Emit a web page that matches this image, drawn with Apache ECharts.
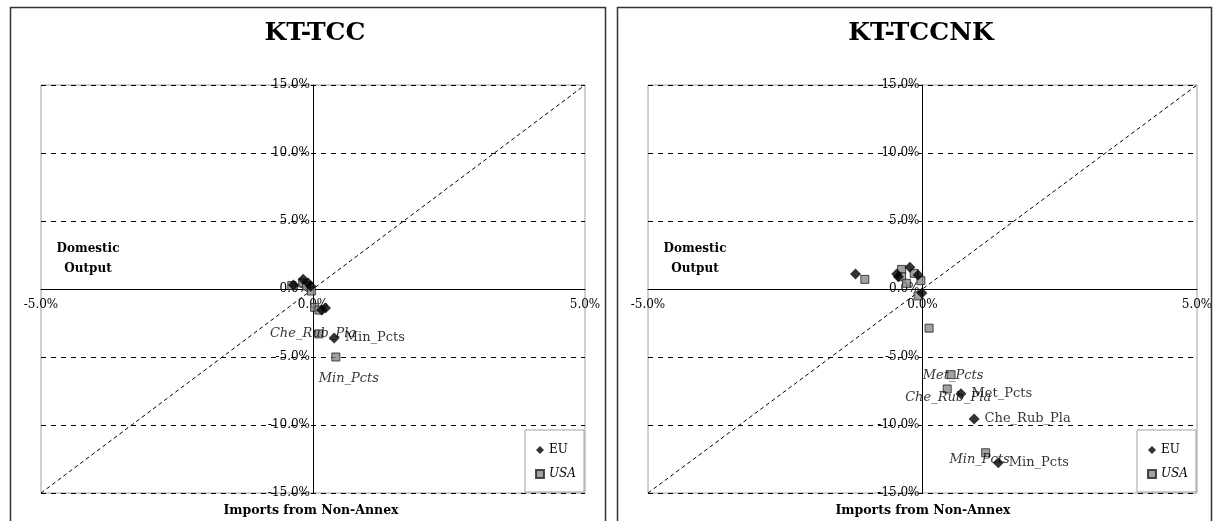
<!DOCTYPE html>
<html><head><meta charset="utf-8">
<script src="https://cdn.jsdelivr.net/npm/echarts@6/dist/echarts.min.js"></script>
<style>html,body{margin:0;padding:0;background:#fff}#c{width:1218px;height:521px}</style>
</head><body><div id="c"></div><script>
// ---- data (percent units) ----
const panelTitles = ['KT-TCC', 'KT-TCCNK'];
const seriesNames = ['EU', 'USA'];
const yAxisTitle = 'Domestic\nOutput';
const xAxisTitle = 'Imports from Non-Annex';

const euTCC = [[-0.36, 0.29], [-0.18, 0.72], [-0.09, 0.45], [-0.04, 0.2], [0.16, -1.55], [0.23, -1.4], [0.39, -3.6]];
const euTCCNames = ['', '', '', '', '', '', 'Min_Pcts'];
const usaTCC = [[-0.39, 0.25], [-0.19, 0.45], [-0.12, 0.22], [-0.03, -0.15], [0.03, -1.35], [0.11, -1.55], [0.11, -3.3], [0.42, -5.0]];
const usaTCCNames = ['', '', '', '', '', '', 'Che_Rub_Pla', 'Min_Pcts'];

const euTCCNK = [[-1.22, 1.1], [-0.47, 1.1], [-0.44, 0.9], [-0.23, 1.6], [-0.08, 1.03], [-0.01, -0.3], [0.70, -7.7], [0.94, -9.55], [1.38, -12.77]];
const euTCCNKNames = ['', '', '', '', '', '', 'Met_Pcts', 'Che_Rub_Pla', 'Min_Pcts'];
const usaTCCNK = [[-1.05, 0.71], [-0.38, 1.44], [-0.38, 0.9], [-0.29, 0.42], [-0.15, 1.15], [-0.03, 0.61], [-0.08, -0.51], [0.12, -2.88], [0.52, -6.3], [0.45, -7.35], [1.15, -12.04]];
const usaTCCNKNames = ['', '', '', '', '', '', '', '', 'Met_Pcts', 'Che_Rub_Pla', 'Min_Pcts'];

const xRange = [-5, 5];
const yRange = [-15, 15];
const xStep = 5;
const yStep = 5;
const diagonal = [[-5, -15], [5, 15]];

// ---- layout / style ----
const FONT = 'DejaVu Serif';
const grids = [
  { left: 41, top: 85, width: 544, height: 408 },
  { left: 648, top: 85, width: 549, height: 408 }
];
const panelRects = [
  { x: 10.5, y: 7.5, width: 595, height: 530 },
  { x: 617.5, y: 7.5, width: 594, height: 530 }
];
const titleCenters = [310, 916];
const yTitleCenters = [83, 690];
const xTitleCenters = [306, 918];
const legendPos = [{ right: 1218 - 584, bottom: 521 - 492 }, { right: 1218 - 1196, bottom: 521 - 492 }];
const usaLabelOffsets = [
  { Che_Rub_Pla: [-6, 0], Min_Pcts: [13, 22] },
  { Met_Pcts: [2, 1], Che_Rub_Pla: [1, 9], Min_Pcts: [-6, 7] }
];

const pct = v => v.toFixed(1) + '%';

function euData(pts, names) {
  return pts.map((p, i) => {
    const d = { value: p };
    if (names[i]) {
      d.name = names[i];
      d.label = { show: true, position: 'right', distance: 5, formatter: names[i],
        fontFamily: FONT, fontSize: 13, color: '#000' };
    }
    return d;
  });
}
function usaData(pts, names, offs) {
  return pts.map((p, i) => {
    const d = { value: p };
    if (names[i]) {
      d.name = names[i];
      d.label = { show: true, position: 'inside', offset: offs[names[i]] || [0, 0], formatter: names[i],
        fontFamily: FONT, fontSize: 13, fontStyle: 'italic', color: '#000' };
    }
    return d;
  });
}

const datasets = [
  { eu: euData(euTCC, euTCCNames), usa: usaData(usaTCC, usaTCCNames, usaLabelOffsets[0]) },
  { eu: euData(euTCCNK, euTCCNKNames), usa: usaData(usaTCCNK, usaTCCNKNames, usaLabelOffsets[1]) }
];

const series = [];
datasets.forEach((ds, k) => {
  series.push({
    type: 'line', xAxisIndex: k, yAxisIndex: k, data: diagonal, symbol: 'none', silent: true,
    lineStyle: { color: '#000', width: 1, type: [4, 3] }, z: 1
  });
  series.push({
    name: seriesNames[0], type: 'scatter', xAxisIndex: k, yAxisIndex: k, data: ds.eu,
    symbol: 'diamond', symbolSize: 11, itemStyle: { color: '#000' }, z: 4
  });
  series.push({
    name: seriesNames[1], type: 'scatter', xAxisIndex: k, yAxisIndex: k, data: ds.usa,
    symbol: 'rect', symbolSize: 8, itemStyle: { color: '#8a8a8a', borderColor: '#222', borderWidth: 1 }, z: 3
  });
});

const titles = [];
panelTitles.forEach((t, k) => {
  titles.push({ text: t, left: titleCenters[k], top: 16, textAlign: 'center',
    textStyle: { fontFamily: FONT, fontSize: 25, fontWeight: 'bold', color: '#000' } });
  titles.push({ text: yAxisTitle, left: yTitleCenters[k], top: 234, textAlign: 'center',
    textStyle: { fontFamily: FONT, fontSize: 12, fontWeight: 'bold', color: '#000', lineHeight: 20, align: 'center' } });
  titles.push({ text: xAxisTitle, left: xTitleCenters[k], top: 499, textAlign: 'center',
    textStyle: { fontFamily: FONT, fontSize: 12.5, fontWeight: 'bold', color: '#000' } });
});

const option = {
  animation: false,
  backgroundColor: '#fff',
  title: titles,
  grid: grids.map(g => Object.assign({ show: true, borderColor: '#a0a0a0', borderWidth: 1, backgroundColor: 'transparent',
    containLabel: false, outerBoundsMode: 'none' }, g)),
  xAxis: grids.map((g, k) => ({
    type: 'value', gridIndex: k, min: xRange[0], max: xRange[1], interval: xStep,
    position: 'bottom', offset: -g.height / 2,
    axisLine: { show: true, onZero: false, lineStyle: { color: '#000', width: 1 } },
    axisTick: { show: false },
    splitLine: { show: false },
    axisLabel: { formatter: pct, fontFamily: FONT, fontSize: 12, color: '#000', margin: 10, showMinLabel: true, showMaxLabel: true }
  })),
  yAxis: grids.map((g, k) => ({
    type: 'value', gridIndex: k, min: yRange[0], max: yRange[1], interval: yStep,
    position: 'left', offset: -g.width / 2,
    axisLine: { show: true, onZero: false, lineStyle: { color: '#000', width: 1 } },
    axisTick: { show: false },
    splitLine: { show: true, lineStyle: { color: '#000', width: 1, type: [5, 5] } },
    axisLabel: { formatter: pct, fontFamily: FONT, fontSize: 12, color: '#000', margin: 3, showMinLabel: true, showMaxLabel: true }
  })),
  legend: legendPos.map(p => Object.assign({
    orient: 'vertical', data: [{ name: 'EU' }, { name: 'USA', textStyle: { fontStyle: 'italic' } }],
    itemWidth: 8, itemHeight: 8, itemGap: 12, padding: [14, 8, 12, 10],
    borderColor: '#a0a0a0', borderWidth: 1, backgroundColor: '#fff',
    textStyle: { fontFamily: FONT, fontSize: 12, color: '#000' }, selectedMode: false
  }, p)),
  graphic: panelRects.map(r => ({
    type: 'rect', shape: r, silent: true, z: 100,
    style: { fill: 'none', stroke: '#333', lineWidth: 1.5 }
  })),
  series: series
};

const chart = echarts.init(document.getElementById('c'), null, { renderer: 'canvas' });
chart.setOption(option);
</script></body></html>
